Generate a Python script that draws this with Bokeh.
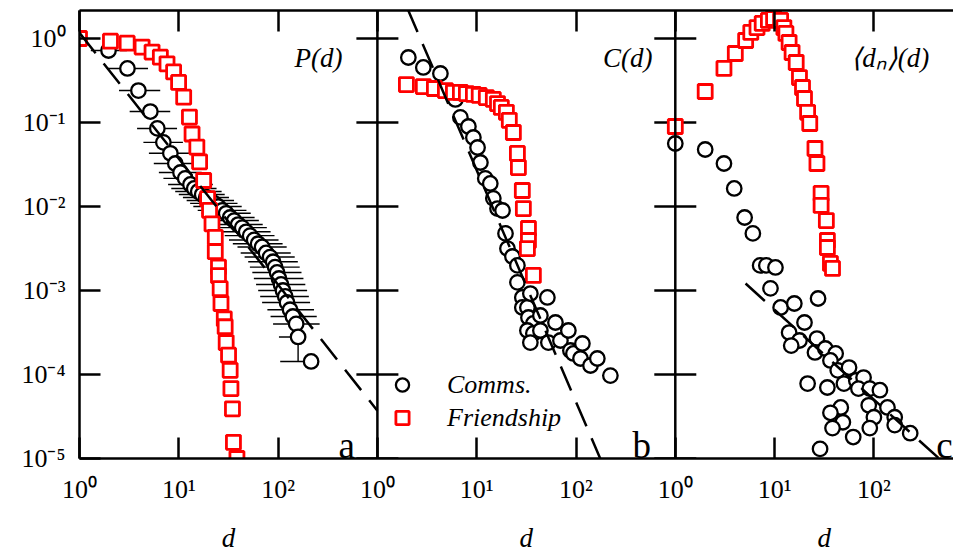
from bokeh.plotting import figure
from bokeh.models import (Range1d, LogScale, LogAxis, FixedTicker, CustomJSTickFormatter,
                          Span, Label, Legend, LegendItem)
from bokeh.embed import file_html
from bokeh.resources import INLINE

# ---------------- data ----------------
# panel a : P(d)
A_COMM_D = [1.96, 3.04, 3.92, 5.17, 6.08, 6.99, 8.22, 9.22, 10.4, 11.6, 13.1, 14.3, 15.7, 17.2,
            18.9, 20.7, 22.7, 24.9, 27.4, 30.0, 32.9, 36.1, 39.6, 43.5, 47.7, 52.3, 57.4, 62.9,
            69.0, 75.7, 83.1, 89.1, 93.3, 97.7, 102, 107, 112, 118, 123, 132, 141, 152, 159, 215]
A_COMM_P = [0.72, 0.44, 0.24, 0.135, 0.085, 0.058, 0.043, 0.0325, 0.0254, 0.0216, 0.0183, 0.0164,
            0.0151, 0.0139, 0.0128, 0.0118, 0.0109, 0.0100, 0.0090, 0.0083, 0.0074, 0.0068, 0.0061,
            0.0056, 0.0050, 0.0045, 0.0040, 0.0036, 0.0033, 0.0028, 0.0025, 0.0022, 0.0019,
            0.00164, 0.00139, 0.00118, 0.0010, 0.00085, 0.00072, 0.00059, 0.00049, 0.00040,
            0.00028, 0.000143]
A_COMM_LO = [1.3, 1.9, 2.5, 3.2, 3.8, 4.4, 5.0, 5.6, 6.3, 7.0, 7.8, 8.4, 9.2, 10, 11, 12, 13, 14,
             15.5, 17, 18.5, 20, 22, 24, 27, 29, 32, 35, 39, 42, 46, 50, 52, 55, 57, 60, 63, 66,
             69, 78, 84, 89, 102, 105]
A_COMM_HI = [3.0, 4.9, 6.5, 8.2, 9.6, 11, 13, 15, 17, 19, 22, 24, 27, 29, 32, 36, 39, 43, 48, 53,
             58, 64, 70, 77, 84, 92, 101, 111, 122, 134, 147, 158, 165, 172, 180, 188, 196, 204,
             210, 230, 245, 262, 159, 215]
A_YERR_D = [159]
A_YERR_LO = [0.000143]
A_YERR_HI = [0.00028]
A_FRIEND_D = [1.0, 2.05, 3.02, 4.27, 5.38, 6.52, 7.61, 8.87, 9.95, 11.2, 12.8, 13.6, 15.2, 16.2,
              17.8, 19.5, 20.4, 21.6, 23.3, 23.3, 25.1, 25.1, 26.1, 26.6, 28.7, 29.3, 30.0, 31.7,
              32.9, 33.5, 34.7, 35.5, 38.5]
A_FRIEND_P = [1.0, 0.93, 0.88, 0.79, 0.69, 0.60, 0.50, 0.40, 0.30, 0.20, 0.116, 0.073, 0.051,
              0.034, 0.0204, 0.0124, 0.0090, 0.0062, 0.0043, 0.0029, 0.0019, 0.0015, 0.00105,
              0.00070, 0.00046, 0.00037, 0.00024, 0.00017, 0.000112, 6.8e-5, 3.9e-5, 1.56e-5, 1.0e-5]
A_FIT_D = [1, 1000]
A_FIT_P = [1.17, 3.7e-5]

# panel b : C(d)
B_COMM_D = [2.05, 2.90, 4.31, 6.10, 6.85, 8.25, 9.26, 10.2, 10.9, 12.2, 13.7, 14.7, 16.2, 18.2,
            19.5, 20.4, 22.9, 25.7, 25.7, 28.8, 28.8, 32.4, 33.2, 34.7, 37.2, 32.4, 37.2, 43.8,
            43.8, 51.5, 62.1, 34.7, 52.7, 69.7, 83.8, 87.8, 94.2, 116, 111, 140, 164, 222]
B_COMM_C = [0.594, 0.452, 0.383, 0.188, 0.115, 0.0896, 0.0663, 0.0504, 0.0334, 0.0216, 0.0188,
            0.0125, 0.00946, 0.00896, 0.00478, 0.00316, 0.00254, 0.00199, 0.00125, 0.000826,
            0.000628, 0.000628, 0.000477, 0.00092, 0.000405, 0.000334, 0.000308, 0.000504,
            0.000334, 0.000826, 0.000416, 0.00024, 0.00024, 0.000254, 0.000334, 0.000193,
            0.000178, 0.000234, 0.000155, 0.000128, 0.000155, 9.7e-5]
B_FRIEND_D = [1.96, 2.90, 3.75, 4.84, 5.83, 6.85, 7.87, 9.26, 10.6, 12.5, 14.7, 16.2, 17.7, 19.9,
              21.3, 23.4, 25.7, 26.3, 28.8, 29.5, 33.2, 33.2, 32.4, 37.2]
B_FRIEND_C = [0.283, 0.268, 0.254, 0.240, 0.228, 0.228, 0.221, 0.216, 0.210, 0.198, 0.188, 0.168,
              0.151, 0.132, 0.106, 0.076, 0.0428, 0.0291, 0.0155, 0.00946, 0.00547, 0.00394,
              0.00316, 0.00151]
B_FIT_D = [2.0, 180]
B_FIT_C = [2.3, 9.3e-6]

# panel c : <d_n>(d)
C_COMM_D = [1.0, 2.0, 3.09, 3.92, 4.99, 6.04, 7.15, 8.26, 10.2, 9.09, 27.4, 11.5, 15.8, 20.0, 14.0,
            17.8, 26.7, 14.7, 25.5, 32.4, 41.2, 36.5, 43.2, 56.2, 21.5, 34.0, 49.9, 66.5, 78.7,
            69.8, 90.9, 115, 46.4, 36.5, 88.7, 137, 48.7, 38.3, 100, 162, 90.9, 162, 61.9, 232, 28.7]
C_COMM_N = [0.0562, 0.0477, 0.0325, 0.0164, 0.0074, 0.00478, 0.00199, 0.00199, 0.00188, 0.00106,
            0.000803, 0.000628, 0.0007, 0.000416, 0.000316, 0.000254, 0.000268, 0.000221,
            0.000183, 0.000204, 0.000178, 0.000147, 0.000112, 0.000121, 7.8e-5, 7.0e-5, 7.8e-5,
            8.5e-5, 9.2e-5, 6.8e-5, 6.8e-5, 6.5e-5, 4.05e-5, 3.5e-5, 4.3e-5, 4.05e-5, 2.7e-5,
            2.3e-5, 3.1e-5, 3.1e-5, 2.3e-5, 2.5e-5, 1.8e-5, 2.0e-5, 1.3e-5]
C_FRIEND_D = [1.0, 2.0, 3.09, 4.02, 5.11, 5.76, 6.65, 7.50, 8.66, 9.77, 11.5, 12.4, 13.0, 14.0,
              15.0, 16.5, 17.8, 19.1, 20.0, 21.5, 22.6, 25.5, 26.7, 29.4, 29.4, 33.2, 34.0, 34.0,
              36.5, 38.3]
C_FRIEND_N = [0.0896, 0.234, 0.44, 0.663, 0.947, 1.18, 1.35, 1.51, 1.64, 1.73, 1.64, 1.35, 1.15,
              0.896, 0.681, 0.518, 0.343, 0.261, 0.193, 0.132, 0.0973, 0.049, 0.0325, 0.0143,
              0.0103, 0.0068, 0.00394, 0.00325, 0.0021, 0.00183]
C_FIT_D = [5.1, 453]
C_FIT_N = [1.21e-3, 1.0e-5]

X_TICKS = [1, 10, 100, 1e3, 1e4, 1e5, 1e6, 1e7, 1e8]
Y_TICKS = [1e-5, 1e-4, 1e-3, 1e-2, 1e-1, 1]
PANEL_START = {"b": 1e3, "c": 1e6}     # where panels b and c begin on the shared bottom axis
X_LABEL_AT = [31.6, 31.6e3, 31.6e6]    # centre of each panel on the shared bottom axis
X_LABEL = "d"
PANEL_TITLES = ["P(d)", "C(d)", "\u27e8d\u2099\u27e9(d)"]
PANEL_LETTERS = ["a", "b", "c"]
LEGEND_LABELS = ["Comms.", "Friendship"]

# ---------------- layout / style ----------------
SERIF = "Liberation Serif"
FIG_W, FIG_H = 953, 556
LEFT, TOP = 79, 10
FRAME_H = 448
BOTTOM = FIG_H - TOP - FRAME_H
PX_DEC_X, PX_DEC_Y = 99.3, 84.0
frame_w = FIG_W - LEFT
x_dec = frame_w / PX_DEC_X
y_top = 1e-5 * 10 ** (FRAME_H / PX_DEC_Y)

p = figure(width=FIG_W, height=FIG_H, x_axis_type="log", y_axis_type="log",
           x_range=Range1d(1, 10 ** x_dec), y_range=Range1d(1e-5, y_top),
           output_backend="svg", toolbar_location=None,
           min_border_left=LEFT, min_border_right=0, min_border_top=TOP,
           min_border_bottom=BOTTOM)
p.extra_x_ranges = {"b": Range1d(1e-3, 10 ** (x_dec - 3)), "c": Range1d(1e-6, 10 ** (x_dec - 6))}
p.extra_x_scales = {"b": LogScale(), "c": LogScale()}
p.xgrid.visible = False
p.ygrid.visible = False
p.outline_line_color = None
p.background_fill_color = "white"
p.border_fill_color = "white"

SUP = ('const sup = {"0":"\u2070","1":"\u00b9","2":"\u00b2","3":"\u00b3","4":"\u2074",'
       '"5":"\u2075","6":"\u2076","7":"\u2077","8":"\u2078","9":"\u2079","-":"\u207b"};')
xfmt = CustomJSTickFormatter(code=SUP + "const e = Math.round(Math.log10(tick)) % 3;"
                                        "return '10' + sup[String(e)];")
yfmt = CustomJSTickFormatter(code=SUP + "const e = Math.round(Math.log10(tick));"
                                        "return '10' + String(e).split('').map(c => sup[c]).join('');")


def style_axis(ax):
    ax.axis_line_width = 2.5
    ax.axis_line_color = "black"
    ax.major_tick_line_width = 2.5
    ax.major_tick_line_color = "black"
    ax.major_tick_in = 21
    ax.major_tick_out = 0
    ax.minor_tick_line_color = None
    ax.major_label_text_font = SERIF
    ax.major_label_text_font_size = "26px"
    ax.major_label_text_color = "black"


xa = p.xaxis[0]
style_axis(xa)
xa.ticker = FixedTicker(ticks=X_TICKS)
xa.formatter = xfmt
xa.major_label_standoff = 16
xa.major_label_text_line_height = 0.9

ya = p.yaxis[0]
style_axis(ya)
ya.ticker = FixedTicker(ticks=Y_TICKS)
ya.formatter = yfmt
ya.major_label_standoff = 14

top = LogAxis(ticker=FixedTicker(ticks=X_TICKS), formatter=CustomJSTickFormatter(code="return '';"))
style_axis(top)
top.major_label_text_font_size = "0px"
top.major_label_standoff = 0
p.add_layout(top, "above")

# second row under the bottom axis: the "d" label of each panel
dax = LogAxis(ticker=FixedTicker(ticks=X_LABEL_AT),
              formatter=CustomJSTickFormatter(code="return '%s';" % X_LABEL))
dax.axis_line_color = None
dax.major_tick_line_color = None
dax.minor_tick_line_color = None
dax.major_tick_in = 0
dax.major_tick_out = 0
dax.major_label_standoff = 16
dax.major_label_text_line_height = 0.7
dax.major_label_text_font = SERIF
dax.major_label_text_font_style = "italic"
dax.major_label_text_font_size = "27px"
dax.major_label_text_color = "black"
p.add_layout(dax, "below")

bounds = list(PANEL_START.values())
for b in bounds:
    p.add_layout(Span(location=b, dimension="height", line_width=2.5, line_color="black"))
# inward ticks on both sides of each inner panel border
p.scatter(x=[b for b in bounds for t in Y_TICKS], y=[t for b in bounds for t in Y_TICKS],
          marker="dash", size=42, line_width=2.5, line_color="black")

CIRC = dict(marker="circle", size=14.5, line_width=2.3, line_color="black", fill_color="white")
SQR = dict(marker="square", size=14, line_width=2.8, line_color="#ff0000", fill_color="white")
FIT = dict(line_dash="26 13", line_width=2.5, line_color="black")

# panel a
p.segment(x0=A_COMM_LO, x1=A_COMM_HI, y0=A_COMM_P, y1=A_COMM_P, line_width=1.4, line_color="black")
p.segment(x0=A_YERR_D, x1=A_YERR_D, y0=A_YERR_LO, y1=A_YERR_HI, line_width=1.4, line_color="black")
r_circ = p.scatter(A_COMM_D, A_COMM_P, **CIRC)
r_sq = p.scatter(A_FRIEND_D, A_FRIEND_P, **SQR)
p.line(A_FIT_D, A_FIT_P, **FIT)

# panel b
p.scatter(B_COMM_D, B_COMM_C, x_range_name="b", **CIRC)
p.scatter(B_FRIEND_D, B_FRIEND_C, x_range_name="b", **SQR)
p.line(B_FIT_D, B_FIT_C, x_range_name="b", **FIT)

# panel c
p.scatter(C_COMM_D, C_COMM_N, x_range_name="c", **CIRC)
p.scatter(C_FRIEND_D, C_FRIEND_N, x_range_name="c", **SQR)
p.line(C_FIT_D, C_FIT_N, x_range_name="c", **FIT)

# titles and letters
ranges = ["default", "b", "c"]
title_x = [445, 588, 361]
letter_x = [406, 370, 425]
for rn, t, tx, let, lx in zip(ranges, PANEL_TITLES, title_x, PANEL_LETTERS, letter_x):
    p.add_layout(Label(x=tx, y=0.594, x_range_name=rn, text=t, text_align="right",
                       text_baseline="middle", text_font=SERIF, text_font_style="italic",
                       text_font_size="27px", text_color="black"))
    p.add_layout(Label(x=lx, y=1.43e-5, x_range_name=rn, text=let, text_align="left",
                       text_baseline="alphabetic", text_font=SERIF, text_font_size="37px",
                       text_color="black"))

legend = Legend(items=[LegendItem(label=LEGEND_LABELS[0], renderers=[r_circ]),
                       LegendItem(label=LEGEND_LABELS[1], renderers=[r_sq])],
                location=(305, 24), padding=0, margin=0, spacing=0,
                glyph_width=36, glyph_height=33, label_standoff=27,
                label_text_font=SERIF, label_text_font_style="italic",
                label_text_font_size="26px", label_text_color="black",
                border_line_color=None, background_fill_alpha=0)
p.add_layout(legend)

with open("out.html", "w", encoding="utf-8") as f:
    f.write(file_html(p, INLINE))
